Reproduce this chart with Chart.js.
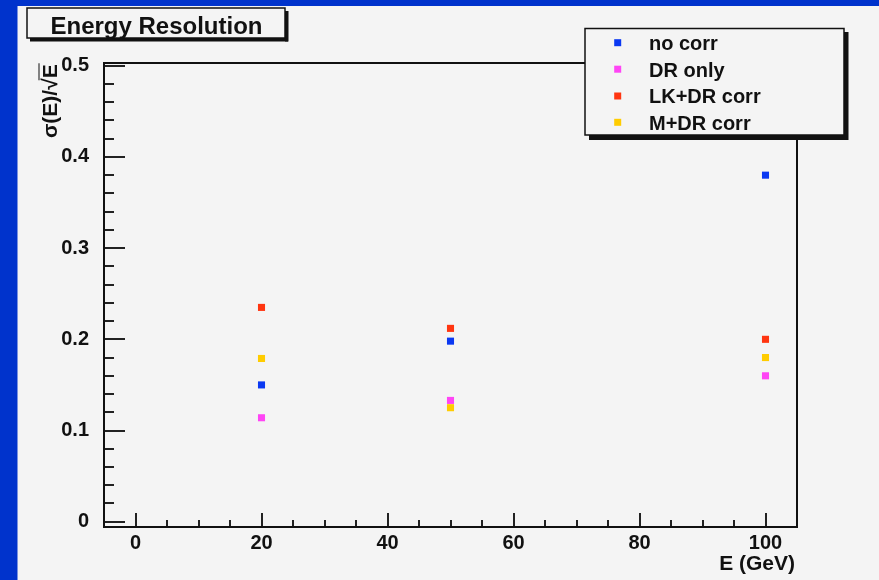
<!DOCTYPE html>
<html><head><meta charset="utf-8">
<script src="https://cdn.jsdelivr.net/npm/chart.js@4.4.1/dist/chart.umd.min.js"></script>
<style>html,body{margin:0;padding:0;background:#0033cc;overflow:hidden}</style>
</head><body>
<canvas id="c" width="879" height="580" style="display:block;width:879px;height:580px"></canvas>
<script>
// ---- data ----
const energies = [20, 50, 100];
const noCorr   = [0.150, 0.198, 0.380];
const drOnly   = [0.114, 0.133, 0.160];
const lkDrCorr = [0.235, 0.212, 0.200];
const mDrCorr  = [0.179, 0.125, 0.180];
const seriesNames = ['no corr', 'DR only', 'LK+DR corr', 'M+DR corr'];
const xTickLabels = [0, 20, 40, 60, 80, 100];
const yTickLabels = [0, 0.1, 0.2, 0.3, 0.4, 0.5];
const chartTitle = 'Energy Resolution';
const xTitle = 'E (GeV)';
const yTitle = 'σ(E)/√E';

const colors = ['#0a38f2', '#ff45f5', '#ff3510', '#ffcc00'];
const FONT = '"Liberation Sans", Arial, Helvetica, sans-serif';
const INK = '#111111';

function pts(ys) { return energies.map((x, i) => ({x: x, y: ys[i]})); }
const seriesValues = [noCorr, drOnly, lkDrCorr, mDrCorr];

function subdivide(majors, n) {
  const out = [];
  for (let i = 0; i < majors.length; i++) {
    out.push(majors[i]);
    if (i < majors.length - 1) {
      const step = (majors[i + 1] - majors[i]) / n;
      for (let k = 1; k < n; k++) out.push(Math.round((majors[i] + k * step) * 1e6) / 1e6);
    }
  }
  return out;
}
function isMajor(list, v) { return list.some(t => Math.abs(t - v) < 1e-9); }

const decor = {
  id: 'decor',
  beforeDraw(chart) {
    const ctx = chart.ctx;
    ctx.save();
    ctx.fillStyle = '#0033cc';
    ctx.fillRect(0, 0, chart.width, chart.height);
    ctx.fillStyle = '#f4f4f4';
    ctx.fillRect(17.5, 6, chart.width - 17.5, chart.height - 6);
    ctx.restore();
  },
  afterDraw(chart) {
    const ctx = chart.ctx;
    const a = chart.chartArea;
    const xs = chart.scales.x, ys = chart.scales.y;
    ctx.save();
    // tick marks
    ctx.strokeStyle = '#222';
    ctx.lineWidth = 2;
    ctx.beginPath();
    xs.ticks.forEach(t => {
      const px = Math.round(xs.getPixelForValue(t.value));
      const len = isMajor(xTickLabels, t.value) ? 14 : 7;
      ctx.moveTo(px, a.bottom); ctx.lineTo(px, a.bottom - len);
    });
    ys.ticks.forEach(t => {
      const py = Math.round(ys.getPixelForValue(t.value));
      const len = isMajor(yTickLabels, t.value) ? 21 : 10;
      ctx.moveTo(a.left, py); ctx.lineTo(a.left + len, py);
    });
    ctx.stroke();
    // frame
    ctx.strokeStyle = INK;
    ctx.lineWidth = 2;
    ctx.strokeRect(a.left, a.top, a.right - a.left, a.bottom - a.top);

    // x title
    ctx.fillStyle = INK;
    ctx.font = 'bold 21px ' + FONT;
    ctx.textAlign = 'right';
    ctx.textBaseline = 'alphabetic';
    ctx.fillText(xTitle, 795, 570);

    // y title (rotated)
    ctx.save();
    ctx.translate(57, 138);
    ctx.rotate(-Math.PI / 2);
    ctx.font = 'bold 21px ' + FONT;
    ctx.textAlign = 'left';
    ctx.fillText(yTitle, 0, 0);
    const full = ctx.measureText(yTitle).width;
    const lastW = ctx.measureText('E').width;
    ctx.lineWidth = 1;
    ctx.beginPath();
    ctx.moveTo(full - lastW - 2, -18);
    ctx.lineTo(full + 1, -18);
    ctx.stroke();
    ctx.restore();

    // title box
    ctx.fillStyle = INK;
    ctx.fillRect(30, 38, 258, 3.5);
    ctx.fillRect(285, 11, 3.5, 30.5);
    ctx.fillStyle = '#f4f4f4';
    ctx.fillRect(27, 8, 258, 30);
    ctx.strokeStyle = INK;
    ctx.lineWidth = 1.5;
    ctx.strokeRect(27, 8, 258, 30);
    ctx.fillStyle = INK;
    ctx.font = 'bold 24px ' + FONT;
    ctx.textAlign = 'center';
    ctx.fillText(chartTitle, 156.5, 33.5);

    // legend box
    ctx.fillStyle = INK;
    ctx.fillRect(589, 135, 259, 5);
    ctx.fillRect(844, 32, 4.5, 108);
    ctx.fillStyle = '#f4f4f4';
    ctx.fillRect(585, 28.5, 259, 106.5);
    ctx.strokeStyle = INK;
    ctx.lineWidth = 1.5;
    ctx.strokeRect(585, 28.5, 259, 106.5);
    const rowsY = [42.7, 69.2, 96, 122.3];
    ctx.font = 'bold 20px ' + FONT;
    ctx.textAlign = 'left';
    seriesNames.forEach((name, i) => {
      ctx.fillStyle = colors[i];
      ctx.fillRect(614.2, rowsY[i] - 3.5, 7, 7);
      ctx.fillStyle = INK;
      ctx.fillText(name, 649, rowsY[i] + 7.3);
    });
    ctx.restore();
  }
};

new Chart(document.getElementById('c'), {
  type: 'scatter',
  data: {
    datasets: seriesNames.map((name, i) => ({
      label: name,
      data: pts(seriesValues[i]),
      pointStyle: 'rect',
      pointRadius: 5,
      pointHoverRadius: 5,
      borderWidth: 0,
      backgroundColor: colors[i],
      borderColor: colors[i]
    }))
  },
  options: {
    responsive: false,
    animation: false,
    devicePixelRatio: 1,
    events: [],
    layout: {padding: {top: 63, left: 0, right: 82, bottom: 0}},
    plugins: {legend: {display: false}, title: {display: false}, tooltip: {enabled: false}},
    scales: {
      x: {
        type: 'linear', min: -5, max: 105,
        afterBuildTicks: s => { s.ticks = subdivide(xTickLabels, 4).map(v => ({value: v})); },
        afterFit: s => { s.height = 53; },
        grid: {display: false},
        border: {display: false},
        ticks: {
          autoSkip: false, maxRotation: 0, padding: -4,
          color: INK, font: {family: FONT, size: 20, weight: 'bold'},
          callback: v => isMajor(xTickLabels, v) ? String(xTickLabels.find(t => Math.abs(t - v) < 1e-9)) : ''
        }
      },
      y: {
        type: 'linear', min: -0.0058, max: 0.503,
        afterBuildTicks: s => { s.ticks = subdivide(yTickLabels, 5).map(v => ({value: v})); },
        afterFit: s => { s.width = 104; },
        grid: {display: false},
        border: {display: false},
        ticks: {
          autoSkip: false, padding: 7,
          color: INK, font: {family: FONT, size: 20, weight: 'bold'},
          callback: v => isMajor(yTickLabels, v) ? String(yTickLabels.find(t => Math.abs(t - v) < 1e-9)) : ''
        }
      }
    }
  },
  plugins: [decor]
});
</script>
</body></html>
